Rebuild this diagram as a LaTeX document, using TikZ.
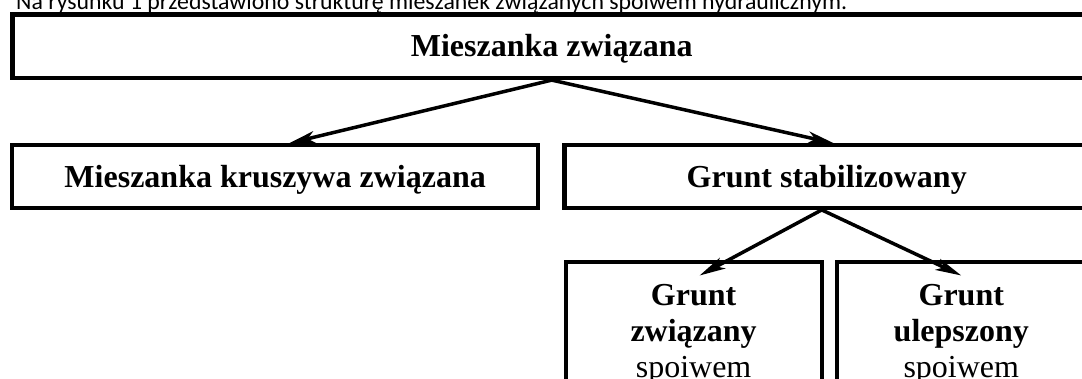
\documentclass[tikz,border=0pt]{standalone}
\usepackage{fontspec}
\setmainfont{Liberation Serif}
\newfontfamily\captionfont{Carlito}
\usetikzlibrary{positioning,arrows.meta}

\begin{document}
\begin{tikzpicture}[x=1pt, y=-1pt, node distance=22pt, main/.style = {draw, line width=4.2pt, inner sep=0pt, text height=21pt, text depth=0pt, font=\bfseries\fontsize{32}{36}\selectfont}]
	\tikzset{edge/.style = {-{Stealth[length=26pt, width=12pt, inset=7pt]}, line width=3.5pt}}
	\tikzset{sub/.style = {main, anchor=north, align=center, text height=116pt, text depth=60pt}}
	\useasboundingbox (0,0) rectangle (1082,378);
	
		\node[anchor=base west, inner sep=0pt, font=\captionfont\fontsize{23.8}{28}\selectfont] (0) at (16,9.5) {Na rysunku 1 przedstawiono strukturę mieszanek związanych spoiwem hydraulicznym.};
		\node[main] (1) [minimum width=1078.5pt, minimum height=63.5pt] at (551.75,46.25) {Mieszanka związana};
		\node[main] (2) [minimum width=526.3pt, minimum height=62.5pt] at (275.15,176.55) {Mieszanka kruszywa związana};
		\node[main] (3) [minimum width=524.5pt, minimum height=62.5pt, right=of 2] {Grunt stabilizowany};
		\node[sub] (4) [minimum width=256pt] at (693.6,259.5) {Grunt\\związany\\\mdseries spoiwem};
		\node[sub] (5) [minimum width=249pt, right=11pt of 4] {Grunt\\ulepszony\\\mdseries spoiwem};
		
		\draw[edge] (1.south) -- ([xshift=14pt]2.north);
		\draw[edge] (1.south) -- ([xshift=7pt]3.north);
		\draw[edge] ([xshift=-5pt]3.south) -- ([xshift=6pt, yshift=-16pt]4.north);
		\draw[edge] ([xshift=-5pt]3.south) -- ([yshift=-16pt]5.north);
	\end{tikzpicture}
\end{document}
